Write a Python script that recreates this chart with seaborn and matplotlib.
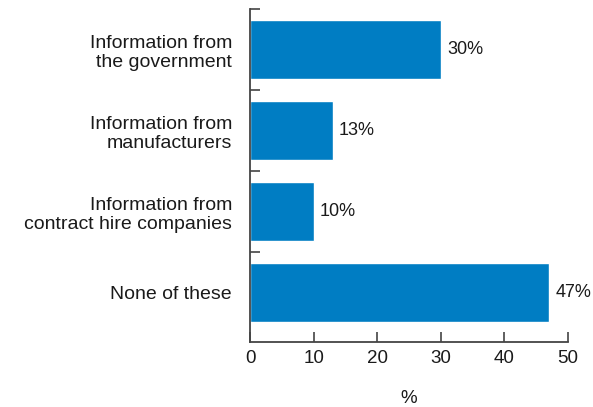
import matplotlib
matplotlib.use("Agg")
import matplotlib.pyplot as plt
import seaborn as sns
import pandas as pd

categories = ["Information from\nthe government",
              "Information from\nmanufacturers",
              "Information from\ncontract hire companies",
              "None of these"]
values = [30, 13, 10, 47]
value_labels = ["30%", "13%", "10%", "47%"]
xticks = [0, 10, 20, 30, 40, 50]

sns.set_theme(style="white")
plt.rcParams['font.family'] = ['Liberation Sans', 'DejaVu Sans']

df = pd.DataFrame({"category": categories, "value": values})

fig = plt.figure(figsize=(5.93, 4.07), dpi=100)
ax = fig.add_axes([250/593, 1-342/407, (568-250)/593, (342-9)/407])

sns.barplot(data=df, x="value", y="category", orient="h", color="#007DC3",
            width=0.73, saturation=1, ax=ax)

for c in ax.containers:
    ax.bar_label(c, labels=value_labels, padding=4.5, fontsize=13, color="#1a1a1a")

ax.set_xlim(0, 50)
ax.set_ylim(3.61, -0.5)
ax.set_xticks(xticks)
ax.set_xticklabels([str(t) for t in xticks], fontsize=13.5, color="#1a1a1a")
ax.set_yticks(range(len(categories)))
ax.set_yticklabels(categories, fontsize=14, color="#1a1a1a", ha="right",
                   linespacing=1.2)
ax.set_yticks([-0.5, 0.5, 1.5, 2.5], minor=True)

ax.tick_params(axis="x", which="major", direction="in", length=7, width=1.2,
               color="#444444", pad=6, bottom=True)
ax.tick_params(axis="y", which="major", length=0, pad=13, left=True)
ax.tick_params(axis="y", which="minor", direction="in", length=7, width=1.2,
               color="#444444", left=True)

for s in ["top", "right"]:
    ax.spines[s].set_visible(False)
for s in ["left", "bottom"]:
    ax.spines[s].set_color("#444444")
    ax.spines[s].set_linewidth(1.3)

ax.set_xlabel("%", fontsize=13.5, color="#1a1a1a", labelpad=16)
ax.set_ylabel("")

fig.savefig("out.png", dpi=100)
